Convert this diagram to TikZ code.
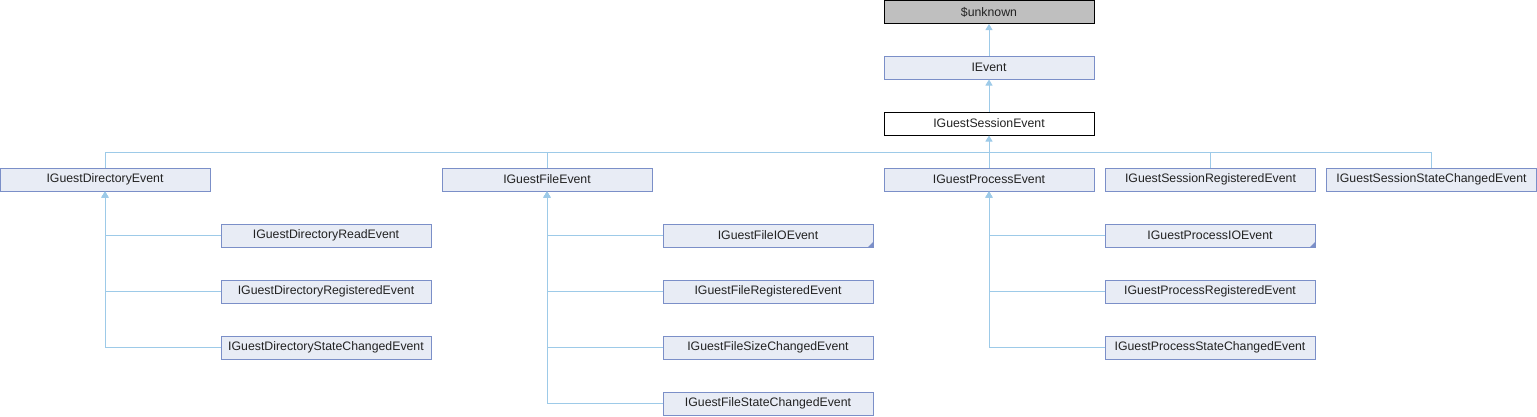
\documentclass[tikz,border=0pt]{standalone}
\usepackage{fontspec}
\setmainfont{Liberation Sans}
\usetikzlibrary{arrows.meta}
\definecolor{boxfill}{HTML}{E8ECF5}
\definecolor{boxdraw}{HTML}{7B8FC8}
\definecolor{edgec}{HTML}{9DCAE8}
\definecolor{unkfill}{HTML}{BFBFBF}
\definecolor{txt}{HTML}{222222}
\tikzset{
  cls/.style={draw=boxdraw, fill=boxfill, line width=1pt, minimum width=210pt, minimum height=23pt,
    inner sep=0pt, text=txt, font=\fontsize{12.3}{14}\selectfont},
  unk/.style={cls, draw=black, fill=unkfill},
  cur/.style={cls, draw=black, fill=white},
  edge/.style={draw=edgec, line width=1pt, -{Triangle[length=6pt,width=7pt]}},
  bus/.style={draw=edgec, line width=1pt},
}
\begin{document}
\begin{tikzpicture}[x=1pt,y=-1pt]
\useasboundingbox (0,0) rectangle (1537,416);
\node[unk] (unknown) at (989,12) {\$unknown};
\node[cls] (ievent) at (989,67.5) {IEvent};
\node[cur] (sess) at (989,123.5) {IGuestSessionEvent};
\node[cls] (dir) at (105,179.5) {IGuestDirectoryEvent};
\node[cls] (file) at (547,179.5) {IGuestFileEvent};
\node[cls] (proc) at (989,179.5) {IGuestProcessEvent};
\node[cls] (sreg) at (1210.5,179.5) {IGuestSessionRegisteredEvent};
\node[cls] (sstate) at (1431.5,179.5) {IGuestSessionStateChangedEvent};
\node[cls] (dread) at (326,235.5) {IGuestDirectoryReadEvent};
\node[cls] (dreg) at (326,291.5) {IGuestDirectoryRegisteredEvent};
\node[cls] (dstate) at (326,347.5) {IGuestDirectoryStateChangedEvent};
\node[cls] (fio) at (768,235.5) {IGuestFileIOEvent};
\node[cls] (freg) at (768,291.5) {IGuestFileRegisteredEvent};
\node[cls] (fsize) at (768,347.5) {IGuestFileSizeChangedEvent};
\node[cls] (fstate) at (768,403.5) {IGuestFileStateChangedEvent};
\node[cls] (pio) at (1210,235.5) {IGuestProcessIOEvent};
\node[cls] (preg) at (1210,291.5) {IGuestProcessRegisteredEvent};
\node[cls] (pstate) at (1210,347.5) {IGuestProcessStateChangedEvent};
\fill[boxdraw] (fio.south east) -- ++(-6,0) -- ++(6,-6) -- cycle;
\fill[boxdraw] (pio.south east) -- ++(-6,0) -- ++(6,-6) -- cycle;
\coordinate (busc) at (989,152.5);
\draw[edge] (ievent.north) -- (unknown.south);
\draw[edge] (sess.north) -- (ievent.south);
\draw[bus] (dir.north) |- (busc);
\draw[bus] (file.north) |- (busc);
\draw[bus] (sreg.north) |- (busc);
\draw[bus] (sstate.north) |- (busc);
\draw[edge] (proc.north) -- (sess.south);
\draw[edge] (dread.west) -| (dir.south);
\draw[edge] (dreg.west) -| (dir.south);
\draw[edge] (dstate.west) -| (dir.south);
\draw[edge] (fio.west) -| (file.south);
\draw[edge] (freg.west) -| (file.south);
\draw[edge] (fsize.west) -| (file.south);
\draw[edge] (fstate.west) -| (file.south);
\draw[edge] (pio.west) -| (proc.south);
\draw[edge] (preg.west) -| (proc.south);
\draw[edge] (pstate.west) -| (proc.south);
\end{tikzpicture}
\end{document}
